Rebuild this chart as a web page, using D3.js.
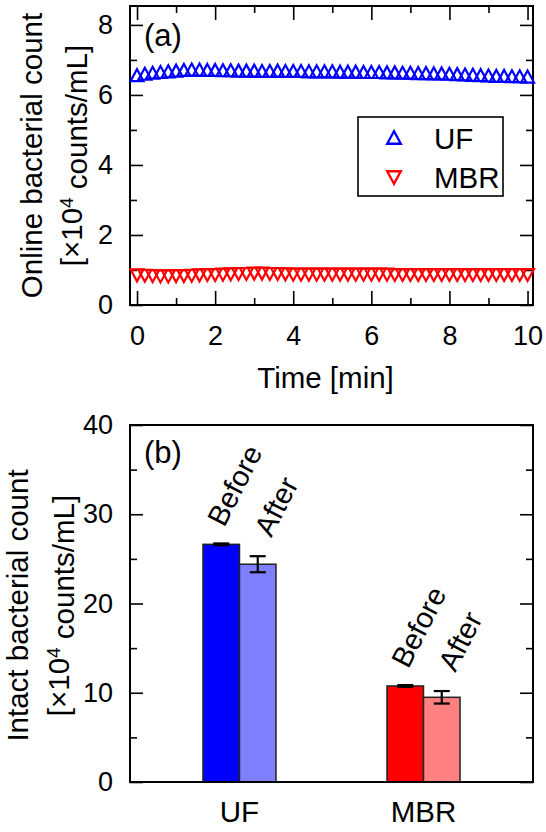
<html>
  <head>
    <meta charset="utf-8" />
    <script src="https://d3js.org/d3.v7.min.js"></script>
    <style>
      body { margin: 0; background: #fff; }
      svg { font-family: "Liberation Sans", Arial, sans-serif; }
    </style>
  </head>
  <body>
    <div class="container"></div>
  </body>
</html>

<script>
  // (a) online count, one reading every 12 s
  const times = [0, 0.2, 0.4, 0.6, 0.8, 1, 1.2, 1.4, 1.6, 1.8, 2, 2.2, 2.4, 2.6, 2.8, 3, 3.2, 3.4, 3.6, 3.8,
    4, 4.2, 4.4, 4.6, 4.8, 5, 5.2, 5.4, 5.6, 5.8, 6, 6.2, 6.4, 6.6, 6.8, 7, 7.2, 7.4, 7.6, 7.8,
    8, 8.2, 8.4, 8.6, 8.8, 9, 9.2, 9.4, 9.6, 9.8, 10];
  const ufOnline = [6.55, 6.59, 6.62, 6.64, 6.66, 6.68, 6.7, 6.71, 6.71, 6.7, 6.7, 6.69, 6.69, 6.68, 6.68, 6.68, 6.67, 6.67, 6.68, 6.67,
    6.67, 6.67, 6.66, 6.66, 6.66, 6.66, 6.65, 6.65, 6.65, 6.64, 6.64, 6.64, 6.63, 6.63, 6.62, 6.62, 6.61, 6.61, 6.6, 6.6,
    6.59, 6.58, 6.57, 6.56, 6.55, 6.54, 6.53, 6.53, 6.52, 6.52, 6.51];
  const mbrOnline = [0.86, 0.85, 0.84, 0.83, 0.83, 0.84, 0.84, 0.85, 0.86, 0.87, 0.87, 0.88, 0.89, 0.9, 0.9, 0.91, 0.91, 0.9, 0.9, 0.89,
    0.88, 0.88, 0.88, 0.88, 0.88, 0.88, 0.88, 0.88, 0.88, 0.88, 0.88, 0.88, 0.88, 0.87, 0.87, 0.87, 0.87, 0.87, 0.87, 0.87,
    0.87, 0.87, 0.87, 0.87, 0.87, 0.87, 0.87, 0.87, 0.87, 0.87, 0.87];

  // (b) intact count
  const groups = ["UF", "MBR"];
  const phases = ["Before", "After"];
  const intactUF = [26.63, 24.4];
  const intactUFErr = [0.1, 0.9];
  const intactMBR = [10.76, 9.49];
  const intactMBRErr = [0.1, 0.7];

  const colors = { UF: ["#0000ff", "#8080ff"], MBR: ["#ff0000", "#ff8080"] };

  const svg = d3.select(".container").append("svg")
    .attr("width", 546).attr("height", 832);

  const left = 130, right = 533;
  const tickFont = 27, titleFont = 29.5;

  function frameAxes(g, y, top, bottom, majors, minors) {
    g.append("g").attr("transform", `translate(${left},0)`)
      .call(d3.axisLeft(y).tickValues(majors).tickSize(-13).tickPadding(17).tickFormat(d3.format("d")))
      .call(a => a.select(".domain").remove())
      .call(a => a.selectAll("text").attr("font-size", tickFont).attr("fill", "#000").attr("font-family", null));
    g.append("g").attr("transform", `translate(${left},0)`)
      .call(d3.axisLeft(y).tickValues(minors).tickSize(-7).tickFormat(""))
      .call(a => a.select(".domain").remove());
    g.append("g").attr("transform", `translate(${right},0)`)
      .call(d3.axisRight(y).tickValues(majors).tickSize(-13).tickFormat(""))
      .call(a => a.select(".domain").remove());
    g.append("g").attr("transform", `translate(${right},0)`)
      .call(d3.axisRight(y).tickValues(minors).tickSize(-7).tickFormat(""))
      .call(a => a.select(".domain").remove());
    g.selectAll(".tick line").attr("stroke", "#000").attr("stroke-width", 1.6);
    g.append("rect").attr("x", left).attr("y", top)
      .attr("width", right - left).attr("height", bottom - top)
      .attr("fill", "none").attr("stroke", "#000").attr("stroke-width", 2);
  }

  function yTitle(g, cx, x1, x2, line1) {
    g.append("text").attr("transform", `translate(${x1},${cx}) rotate(-90)`)
      .attr("text-anchor", "middle").attr("font-size", titleFont).text(line1);
    const t = g.append("text").attr("transform", `translate(${x2},${cx}) rotate(-90)`)
      .attr("text-anchor", "middle").attr("font-size", titleFont);
    t.append("tspan").text("[×10");
    t.append("tspan").attr("dy", "-0.5em").attr("font-size", 19).text("4");
    t.append("tspan").attr("dy", "0.5em").text(" counts/mL]");
  }

  // ---------- panel (a) ----------
  const aTop = 6, aBottom = 305;
  const xa = d3.scaleLinear().domain([-0.18, 10.14]).range([left, right]);
  const ya = d3.scaleLinear().domain([0, 8.54]).range([aBottom, aTop]);
  const ga = svg.append("g");

  frameAxes(ga, ya, aTop, aBottom, [0, 2, 4, 6, 8], [1, 3, 5, 7]);

  const xMaj = [0, 2, 4, 6, 8, 10], xMin = [1, 3, 5, 7, 9];
  ga.append("g").attr("transform", `translate(0,${aBottom})`)
    .call(d3.axisBottom(xa).tickValues(xMaj).tickSize(-14).tickPadding(21))
    .call(a => a.select(".domain").remove())
    .call(a => a.selectAll("text").attr("font-size", tickFont).attr("fill", "#000").attr("font-family", null));
  ga.append("g").attr("transform", `translate(0,${aBottom})`)
    .call(d3.axisBottom(xa).tickValues(xMin).tickSize(-7).tickFormat(""))
    .call(a => a.select(".domain").remove());
  ga.append("g").attr("transform", `translate(0,${aTop})`)
    .call(d3.axisTop(xa).tickValues(xMaj).tickSize(-14).tickFormat(""))
    .call(a => a.select(".domain").remove());
  ga.append("g").attr("transform", `translate(0,${aTop})`)
    .call(d3.axisTop(xa).tickValues(xMin).tickSize(-7).tickFormat(""))
    .call(a => a.select(".domain").remove());
  ga.selectAll(".tick line").attr("stroke", "#000").attr("stroke-width", 1.6);

  const up = "M0,-6.5L6.5,5.5L-6.5,5.5Z";
  const down = "M0,6.5L6.5,-5.5L-6.5,-5.5Z";

  ga.append("g").selectAll("path").data(times)
    .join("path")
    .attr("d", up)
    .attr("transform", (d, i) => `translate(${xa(d)},${ya(ufOnline[i])})`)
    .attr("fill", "none").attr("stroke", "#0000ff").attr("stroke-width", 2.2);
  ga.append("g").selectAll("path").data(times)
    .join("path")
    .attr("d", down)
    .attr("transform", (d, i) => `translate(${xa(d)},${ya(mbrOnline[i])})`)
    .attr("fill", "none").attr("stroke", "#ff0000").attr("stroke-width", 2.2);

  ga.append("text").attr("x", 144).attr("y", 46).attr("font-size", 31).text("(a)");
  ga.append("text").attr("x", (left + right) / 2 - 6).attr("y", 388)
    .attr("text-anchor", "middle").attr("font-size", titleFont).text("Time [min]");
  yTitle(ga, (aTop + aBottom) / 2, 42, 82, "Online bacterial count");

  // legend
  const leg = ga.append("g");
  leg.append("rect").attr("x", 358).attr("y", 117).attr("width", 145).attr("height", 79)
    .attr("fill", "#fff").attr("stroke", "#000").attr("stroke-width", 1.6);
  [["UF", up, "#0000ff", 138], ["MBR", down, "#ff0000", 177]].forEach(([name, sym, c, cy]) => {
    leg.append("path").attr("d", sym).attr("transform", `translate(394,${cy}) scale(1.05)`)
      .attr("fill", "none").attr("stroke", c).attr("stroke-width", 2.2);
    leg.append("text").attr("x", 434).attr("y", cy + 10.5).attr("font-size", titleFont).text(name);
  });

  // ---------- panel (b) ----------
  const bTop = 425, bBottom = 782;
  const xb = d3.scalePoint().domain(groups).range([left, right]).padding(0.595);
  const xp = d3.scaleBand().domain(phases).range([-36.5, 36.5]);
  const yb = d3.scaleLinear().domain([0, 40]).range([bBottom, bTop]);
  const gb = svg.append("g");

  const bars = [];
  groups.forEach(g => {
    const vals = g === "UF" ? intactUF : intactMBR;
    const errs = g === "UF" ? intactUFErr : intactMBRErr;
    phases.forEach((p, i) => bars.push({ g, p, i, v: vals[i], e: errs[i], c: colors[g][i] }));
  });

  gb.append("g").selectAll("rect").data(bars).join("rect")
    .attr("x", d => xb(d.g) + xp(d.p))
    .attr("width", xp.bandwidth())
    .attr("y", d => yb(d.v))
    .attr("height", d => yb(0) - yb(d.v))
    .attr("fill", d => d.c).attr("stroke", "#222").attr("stroke-width", 1.5);

  const eb = gb.append("g").attr("stroke", "#000").attr("stroke-width", 2.2);
  bars.forEach(d => {
    const cx = xb(d.g) + xp(d.p) + xp.bandwidth() / 2;
    eb.append("line").attr("x1", cx).attr("x2", cx).attr("y1", yb(d.v - d.e)).attr("y2", yb(d.v + d.e));
    [d.v - d.e, d.v + d.e].forEach(v =>
      eb.append("line").attr("x1", cx - 8).attr("x2", cx + 8).attr("y1", yb(v)).attr("y2", yb(v)));
  });

  const labelOff = [[3, -15.5], [13.5, -18]];
  gb.append("g").selectAll("text").data(bars).join("text")
    .attr("transform", d => {
      const cx = xb(d.g) + xp(d.p) + xp.bandwidth() / 2;
      return `translate(${cx + labelOff[d.i][0]},${yb(d.v + d.e) + labelOff[d.i][1]}) rotate(-63)`;
    })
    .attr("font-size", 29).text(d => d.p);

  frameAxes(gb, yb, bTop, bBottom, [0, 10, 20, 30, 40], [5, 15, 25, 35]);

  gb.append("g").selectAll("text").data(groups).join("text")
    .attr("x", d => xb(d)).attr("y", 822)
    .attr("text-anchor", "middle").attr("font-size", titleFont).text(d => d);

  gb.append("text").attr("x", 144).attr("y", 463).attr("font-size", 31).text("(b)");
  yTitle(gb, (bTop + bBottom) / 2 + 2, 28, 69, "Intact bacterial count");
</script>
